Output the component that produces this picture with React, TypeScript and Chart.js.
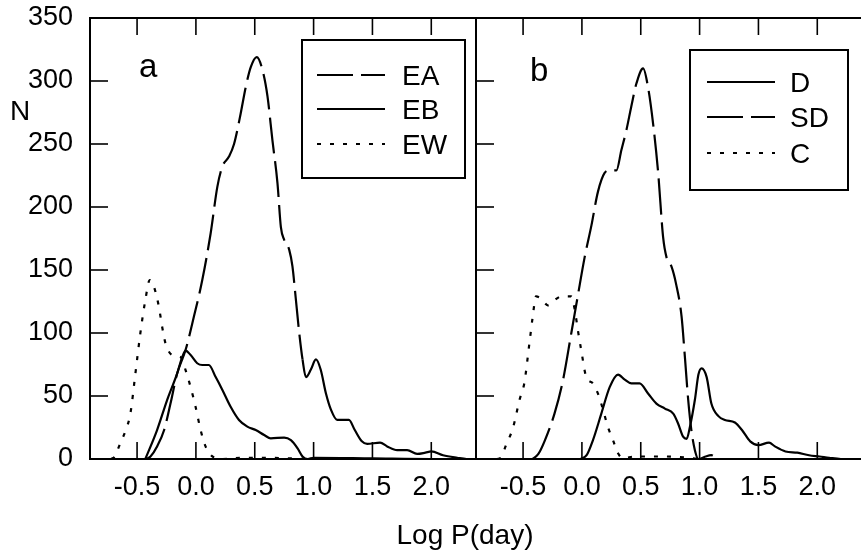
import React, { useEffect, useRef } from "react";
import { Chart, registerables } from "chart.js";

Chart.register(...registerables);

// ---------- axes ----------
const X_MIN = -0.9;
const X_MAX = 2.38;
const Y_MIN = 0;
const Y_MAX = 350;
const X_TICKS = [-0.5, 0, 0.5, 1, 1.5, 2];
const Y_TICKS = [0, 50, 100, 150, 200, 250, 300, 350];

// ---------- panel a ----------
const EA_X = [-0.42, -0.386, -0.33, -0.27, -0.216, -0.159, -0.088, -0.017, 0.054, 0.125, 0.182, 0.224, 0.281, 0.324, 0.38, 0.423, 0.466, 0.517, 0.565, 0.608, 0.65, 0.693, 0.722, 0.75, 0.793, 0.82, 0.85, 0.878, 0.906, 0.935, 0.977, 1.02, 1.06, 1.105, 1.148, 1.2, 1.3, 1.35, 1.41, 1.455, 1.565, 1.625, 1.71, 1.795, 1.88, 1.95, 2.0, 2.1, 2.22, 2.3, 2.38];
const EA_Y = [0, 2, 10, 23, 44, 68, 86.5, 113, 142, 179, 216, 232, 240, 250, 274, 295, 311, 319, 309, 288, 253, 219, 184, 174, 166, 153, 126, 100, 79, 65, 71, 79, 71, 52, 39, 31, 31, 23, 14, 12, 13, 10, 7, 7, 4, 5, 6, 3, 1, 0, 0];

const EB_X = [-0.43, -0.33, -0.244, -0.159, -0.116, -0.088, -0.045, 0.011, 0.054, 0.11, 0.168, 0.224, 0.295, 0.366, 0.437, 0.508, 0.58, 0.636, 0.75, 0.807, 0.864, 0.906, 0.95, 1.0, 1.5, 2.0, 2.38];
const EB_Y = [0, 23, 47, 68, 81, 86, 82.5, 76, 74.6, 74.6, 65, 55, 41.5, 31, 25.7, 23, 19, 16.4, 17, 15, 8.5, 2, 0, 1, 0.5, 0, 0];

const EW_X = [-0.72, -0.69, -0.645, -0.6, -0.557, -0.514, -0.472, -0.43, -0.392, -0.358, -0.315, -0.287, -0.259, -0.2, -0.13, -0.088, -0.045, -0.003, 0.04, 0.082, 0.14, 0.224, 0.4, 0.6, 0.8, 1.0, 1.5, 2.0, 2.3];
const EW_Y = [0, 2, 12, 22, 36, 68, 100, 126, 142, 137, 121, 105, 92, 82.5, 81, 70.6, 57, 41.5, 23, 10, 2, 0, 1, 1, 0.5, 0, 0, 0, 0];

// ---------- panel b ----------
const D_X = [-0.01, 0.04, 0.094, 0.165, 0.236, 0.307, 0.364, 0.42, 0.49, 0.562, 0.633, 0.705, 0.776, 0.818, 0.86, 0.89, 0.918, 0.96, 0.99, 1.017, 1.06, 1.1, 1.16, 1.215, 1.3, 1.36, 1.43, 1.5, 1.59, 1.64, 1.73, 1.83, 1.93, 2.02, 2.1, 2.2, 2.38];
const D_Y = [0, 3, 15, 36, 57, 67, 63, 60, 60, 52, 44, 40, 36, 28, 17.7, 16, 25.7, 47, 67, 72, 65, 44, 34, 31, 29, 23, 14, 11, 13, 10, 6, 5, 3, 2, 1, 0, 0];

const SD_X = [-0.42, -0.37, -0.318, -0.233, -0.162, -0.09, -0.034, 0.023, 0.08, 0.136, 0.193, 0.236, 0.293, 0.335, 0.378, 0.42, 0.463, 0.52, 0.562, 0.605, 0.648, 0.69, 0.719, 0.76, 0.8, 0.847, 0.875, 0.903, 0.93, 0.96, 0.99, 1.05, 1.1, 1.15, 1.3, 2.0, 2.38];
const SD_Y = [0, 4, 14, 36, 62, 100, 130, 160, 185, 212, 227, 229, 229, 245, 261, 280, 298, 310, 295, 266, 227, 176, 160, 153, 139, 113, 81, 47, 23, 7, 0, 2, 3, 0, 0, 0, 0];

const C_X = [-0.72, -0.69, -0.645, -0.585, -0.53, -0.49, -0.446, -0.418, -0.39, -0.347, -0.29, -0.233, -0.176, -0.09, -0.06, -0.034, -0.006, 0.037, 0.094, 0.136, 0.18, 0.22, 0.264, 0.307, 0.35, 0.45, 0.7, 0.9, 1.0, 1.5, 2.0, 2.38];
const C_Y = [0, 1, 11, 25, 47, 60, 92, 113, 129, 127.5, 122, 126, 129, 129, 118, 102, 86.5, 65, 60, 52, 39, 25.7, 15, 4.5, 0.5, 2, 2, 1, 0, 0, 0, 0];

const FONT = "'Liberation Sans', Arial, Helvetica, sans-serif";
const LONG_DASH = [36, 8];
const DOT = [4, 9];

function pts(xs: number[], ys: number[]) {
  return xs.map((x, i) => ({ x, y: ys[i] }));
}

function line(ctx: CanvasRenderingContext2D, x1: number, y1: number, x2: number, y2: number) {
  ctx.beginPath();
  ctx.moveTo(x1, y1);
  ctx.lineTo(x2, y2);
  ctx.stroke();
}

const framePlugin = {
  id: "frame",
  afterDatasetsDraw(chart: any, _args: any, opts: any) {
    const { ctx, chartArea: a, scales } = chart;
    ctx.save();
    ctx.strokeStyle = "#000";
    ctx.fillStyle = "#000";
    ctx.setLineDash([]);
    ctx.lineWidth = 2;
    ctx.strokeRect(a.left, a.top, a.right - a.left, a.bottom - a.top);
    ctx.lineWidth = 1.6;
    for (const v of X_TICKS) {
      const x = scales.x.getPixelForValue(v);
      line(ctx, x, a.bottom, x, a.bottom - 17);
      line(ctx, x, a.top, x, a.top + 17);
    }
    for (const v of Y_TICKS) {
      if (v <= Y_MIN || v >= Y_MAX) continue;
      const y = scales.y.getPixelForValue(v);
      line(ctx, a.left, y, a.left + 18, y);
    }
    // legend box
    const L = opts.legend;
    if (L) {
      ctx.lineWidth = 2;
      ctx.strokeRect(L.x, L.y, L.w, L.h);
      ctx.font = `28px ${FONT}`;
      ctx.textBaseline = "middle";
      ctx.textAlign = "left";
      chart.data.datasets.forEach((ds: any, i: number) => {
        const ry = L.rows[i];
        ctx.lineWidth = 2.2;
        ctx.setLineDash(ds.borderDash || []);
        line(ctx, L.sx1, ry - 2, L.sx2, ry - 2);
        ctx.setLineDash([]);
        ctx.fillText(ds.label, L.tx, ry);
      });
    }
    // texts
    ctx.textBaseline = "alphabetic";
    for (const t of opts.texts || []) {
      ctx.font = `${t.size}px ${FONT}`;
      ctx.textAlign = t.align || "left";
      ctx.fillText(t.text, t.x, t.y);
    }
    ctx.restore();
  },
};

function makeConfig(datasets: any[], showY: boolean, padding: any, frameOpts: any) {
  return {
    type: "line",
    data: { datasets },
    plugins: [framePlugin],
    options: {
      responsive: false,
      animation: false,
      events: [],
      layout: { padding, autoPadding: false },
      plugins: {
        legend: { display: false },
        tooltip: { enabled: false },
        frame: frameOpts,
      },
      elements: { point: { radius: 0 } },
      scales: {
        x: {
          type: "linear",
          min: X_MIN,
          max: X_MAX,
          afterBuildTicks: (s: any) => {
            s.ticks = X_TICKS.map((v) => ({ value: v }));
          },
          afterFit: (s: any) => {
            s.height = 98;
            s.paddingLeft = 0;
            s.paddingRight = 0;
          },
          grid: { display: false, drawTicks: false },
          border: { display: false },
          ticks: {
            color: "#000",
            font: { family: FONT, size: 27 },
            padding: 12,
            maxRotation: 0,
            autoSkip: false,
            callback: (v: any) => Number(v).toFixed(1),
          },
        },
        y: {
          type: "linear",
          min: Y_MIN,
          max: Y_MAX,
          display: showY,
          afterBuildTicks: (s: any) => {
            s.ticks = Y_TICKS.map((v) => ({ value: v }));
          },
          afterFit: (s: any) => {
            if (showY) s.width = 90;
            s.paddingTop = 0;
            s.paddingBottom = 0;
          },
          grid: { display: false, drawTicks: false },
          border: { display: false },
          ticks: {
            color: "#000",
            font: { family: FONT, size: 27 },
            padding: 17,
            autoSkip: false,
          },
        },
      },
    },
  };
}

function ds(label: string, xs: number[], ys: number[], dash: number[], extra: any = {}) {
  return {
    label,
    data: pts(xs, ys),
    borderColor: "#000",
    backgroundColor: "#000",
    borderWidth: 2.2,
    borderDash: dash,
    pointRadius: 0,
    fill: false,
    cubicInterpolationMode: "monotone",
    ...extra,
  };
}

export default function App() {
  const refA = useRef<HTMLCanvasElement | null>(null);
  const refB = useRef<HTMLCanvasElement | null>(null);

  useEffect(() => {
    const chartA = new Chart(
      refA.current as HTMLCanvasElement,
      makeConfig(
        [
          ds("EA", EA_X, EA_Y, LONG_DASH, {
            segment: { borderDash: (c: any) => (c.p0.parsed.x >= 0.9 ? [] : undefined) },
          }),
          ds("EB", EB_X, EB_Y, []),
          ds("EW", EW_X, EW_Y, DOT),
        ],
        true,
        { left: 0, right: 385, top: 18, bottom: 0 },
        {
          legend: { x: 302, y: 40, w: 163, h: 138, sx1: 317, sx2: 385, tx: 402, rows: [77, 111, 146] },
          texts: [
            { text: "a", x: 139, y: 77, size: 33 },
            { text: "N", x: 10, y: 120, size: 28 },
            { text: "Log P(day)", x: 465, y: 544, size: 28, align: "center" },
          ],
        }
      ) as any
    );
    const chartB = new Chart(
      refB.current as HTMLCanvasElement,
      makeConfig(
        [
          ds("D", D_X, D_Y, []),
          ds("SD", SD_X, SD_Y, LONG_DASH),
          ds("C", C_X, C_Y, DOT),
        ],
        false,
        { left: 1, right: 1, top: 18, bottom: 0 },
        {
          legend: { x: 215, y: 50, w: 158, h: 140, sx1: 232, sx2: 300, tx: 315, rows: [84, 119, 155] },
          texts: [{ text: "b", x: 55, y: 81, size: 33 }],
        }
      ) as any
    );
    return () => {
      chartA.destroy();
      chartB.destroy();
    };
  }, []);

  return (
    <div
      style={{
        position: "fixed",
        left: 0,
        top: 0,
        width: 861,
        height: 557,
        overflow: "hidden",
        background: "#fff",
      }}
    >
      <canvas
        ref={refA}
        width={861}
        height={557}
        style={{ position: "absolute", left: 0, top: 0, width: 861, height: 557 }}
      />
      <canvas
        ref={refB}
        width={388}
        height={557}
        style={{ position: "absolute", left: 475, top: 0, width: 388, height: 557 }}
      />
    </div>
  );
}
